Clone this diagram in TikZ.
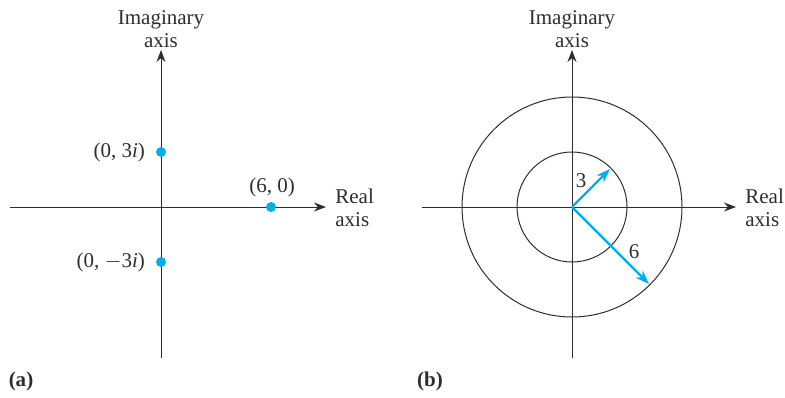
\documentclass[tikz,border=0pt]{standalone}
\usepackage{fontspec}
\setmainfont{Liberation Serif}
\usetikzlibrary{arrows.meta}
\definecolor{axisgray}{RGB}{45,45,45}
\definecolor{ptblue}{RGB}{0,174,239}

\begin{document}
\begin{tikzpicture}[x=0.5pt,y=-0.5pt]
          \tikzstyle{every node}=[font=\fontsize{10.5}{11.5}\selectfont,text=axisgray]
          \tikzstyle{axisline}=[draw=axisgray,line width=0.5pt,-{Stealth[length=6pt,width=4.5pt]}]
          \tikzstyle{ptdot}=[circle,fill=ptblue,inner sep=0pt,minimum size=5pt]
          \tikzstyle{vecarrow}=[draw=ptblue,line width=1.1pt,-{Stealth[length=7pt,width=5pt]}]
      \useasboundingbox (0,0) rectangle (785,397);

      % (a)
      \coordinate (aLeft) at (10,207);
      \coordinate (aRight) at (326,207);
      \coordinate (aBottom) at (161,358);
      \coordinate (aTop) at (161,50);
      \draw[axisline] (aLeft) -- (aRight);
      \draw[axisline] (aBottom) -- (aTop);
      \node[align=center] (aImag) at (161,29) {Imaginary\\axis};
      \node[align=left,anchor=west,inner xsep=0pt] (aReal) at (335,208) {Real\\axis};
      \node[ptdot] (pUp) at (161,152) {};
      \node[ptdot] (pDown) at (161,262) {};
      \node[ptdot] (pRight) at (271,207) {};
      \node[anchor=east] (lUp) at (152,152) {(0, 3\textit{i})};
      \node[anchor=east] (lDown) at (152,262) {(0, $-$3\textit{i})};
      \node (lRight) at (272,187) {(6, 0)};
      \node[font=\fontsize{10.5}{11.5}\selectfont\bfseries] (capA) at (21,381) {(a)};

      % (b)
      \coordinate (bO) at (572,207);
      \coordinate (bLeft) at (422,207);
      \coordinate (bRight) at (736,207);
      \coordinate (bBottom) at (572,358);
      \coordinate (bTop) at (572,50);
      \draw[draw=axisgray,line width=0.5pt] (bO) circle (55);
      \draw[draw=axisgray,line width=0.5pt] (bO) circle (110);
      \draw[axisline] (bLeft) -- (bRight);
      \draw[axisline] (bBottom) -- (bTop);
      \node[align=center] (bImag) at (572,29) {Imaginary\\axis};
      \node[align=left,anchor=west,inner xsep=0pt] (bReal) at (745,208) {Real\\axis};
      \coordinate (tipThree) at (610,169);
      \coordinate (tipSix) at (649,284);
      \draw[vecarrow] (bO) -- (tipThree);
      \draw[vecarrow] (bO) -- (tipSix);
      \node (lThree) at (581,181) {3};
      \node (lSix) at (634,252) {6};
      \node[font=\fontsize{10.5}{11.5}\selectfont\bfseries] (capB) at (430,381) {(b)};

\end{tikzpicture}
\end{document}
